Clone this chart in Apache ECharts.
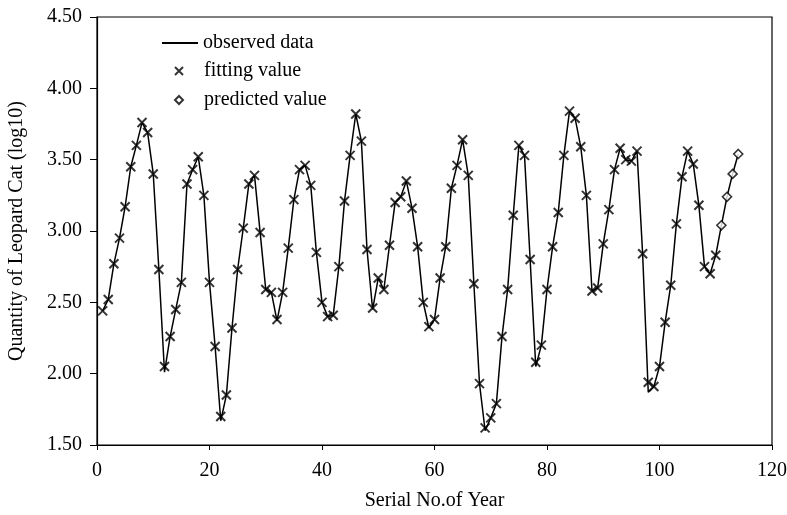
<!DOCTYPE html>
<html>
<head>
<meta charset="utf-8">
<script src="https://cdn.jsdelivr.net/npm/echarts@6/dist/echarts.min.js"></script>
<style>
  html, body { margin: 0; padding: 0; background: #fff; }
  #chart { width: 787px; height: 515px; }
</style>
</head>
<body>
<div id="chart"></div>
<script>
// serial no. of year 1..114
var years = [];
for (var i = 1; i <= 114; i++) years.push(i);

// observed data (log10), years 1..114
var observed = [
  2.44, 2.52, 2.77, 2.95, 3.17, 3.45, 3.60, 3.76, 3.69, 3.40,
  2.73, 2.01, 2.26, 2.45, 2.64, 3.33, 3.43, 3.52, 3.25, 2.64,
  2.19, 1.67, 1.85, 2.32, 2.73, 3.02, 3.33, 3.39, 2.99, 2.59,
  2.57, 2.37, 2.57, 2.88, 3.22, 3.43, 3.46, 3.32, 2.85, 2.50,
  2.40, 2.41, 2.75, 3.21, 3.53, 3.82, 3.63, 2.87, 2.45, 2.67,
  2.59, 2.90, 3.20, 3.24, 3.35, 3.16, 2.89, 2.50, 2.32, 2.38,
  2.67, 2.89, 3.30, 3.46, 3.64, 3.39, 2.63, 1.93, 1.60, 1.69,
  1.79, 2.26, 2.59, 3.11, 3.60, 3.53, 2.80, 2.05, 2.20, 2.59,
  2.89, 3.13, 3.53, 3.84, 3.79, 3.59, 3.25, 2.58, 2.60, 2.91,
  3.15, 3.43, 3.58, 3.50, 3.49, 3.56, 2.84, 1.87, 1.91, 2.05,
  2.36, 2.62, 3.05, 3.38, 3.56, 3.47, 3.18, 2.75, 2.70, 2.83,
  3.04, 3.24, 3.40, 3.54
];

// fitting values, years 1..110
var fitting = [
  2.44, 2.52, 2.77, 2.95, 3.17, 3.45, 3.60, 3.76, 3.69, 3.40,
  2.73, 2.05, 2.26, 2.45, 2.64, 3.33, 3.43, 3.52, 3.25, 2.64,
  2.19, 1.70, 1.85, 2.32, 2.73, 3.02, 3.33, 3.39, 2.99, 2.59,
  2.57, 2.38, 2.57, 2.88, 3.22, 3.43, 3.46, 3.32, 2.85, 2.50,
  2.40, 2.41, 2.75, 3.21, 3.53, 3.82, 3.63, 2.87, 2.46, 2.67,
  2.59, 2.90, 3.20, 3.24, 3.35, 3.16, 2.89, 2.50, 2.33, 2.38,
  2.67, 2.89, 3.30, 3.46, 3.64, 3.39, 2.63, 1.93, 1.62, 1.69,
  1.79, 2.26, 2.59, 3.11, 3.60, 3.53, 2.80, 2.08, 2.20, 2.59,
  2.89, 3.13, 3.53, 3.84, 3.79, 3.59, 3.25, 2.58, 2.60, 2.91,
  3.15, 3.43, 3.58, 3.50, 3.49, 3.56, 2.84, 1.94, 1.91, 2.05,
  2.36, 2.62, 3.05, 3.38, 3.56, 3.47, 3.18, 2.75, 2.70, 2.83
];

// predicted values, years 111..114
var predictedYears = [111, 112, 113, 114];
var predicted = [3.04, 3.24, 3.40, 3.54];

var font = 'Liberation Serif';
var crossIcon = 'path://M0,0L10,10M10,0L0,10';

function pairs(xs, ys) {
  return ys.map(function (v, i) { return [xs[i], v]; });
}

var chart = echarts.init(document.getElementById('chart'));

var legendText = { fontFamily: font, fontSize: 20, color: '#000' };

var option = {
  animation: false,
  backgroundColor: '#fff',
  textStyle: { fontFamily: font, color: '#000' },
  grid: {
    left: 97, right: 15, top: 17, bottom: 70,
    outerBoundsMode: 'none',
    show: true, borderColor: '#000', borderWidth: 1.2
  },
  legend: [
    {
      left: 157, top: 28, itemWidth: 36, itemHeight: 2,
      textStyle: legendText,
      data: [{ name: 'observed data', icon: 'rect' }]
    },
    {
      left: 169, top: 56, itemWidth: 8, itemHeight: 8,
      textStyle: Object.assign({ padding: [0, 0, 0, 16] }, legendText),
      data: ['fitting value']
    },
    {
      left: 169, top: 85, itemWidth: 8, itemHeight: 8,
      textStyle: Object.assign({ padding: [0, 0, 0, 16] }, legendText),
      data: ['predicted value']
    }
  ],
  xAxis: {
    type: 'value',
    min: 0, max: 120, interval: 20,
    name: 'Serial No.of Year',
    nameLocation: 'middle',
    nameGap: 46,
    nameTextStyle: { fontFamily: font, fontSize: 20, color: '#000' },
    axisLine: { onZero: false, lineStyle: { color: '#000', width: 1.2 } },
    axisTick: { show: true, length: 5, lineStyle: { color: '#000' } },
    axisLabel: { fontFamily: font, fontSize: 20, color: '#000', margin: 16 },
    splitLine: { show: false }
  },
  yAxis: {
    type: 'value',
    min: 1.5, max: 4.5, interval: 0.5,
    name: 'Quantity of Leopard Cat (log10)',
    nameLocation: 'middle',
    nameGap: 70,
    nameTextStyle: { fontFamily: font, fontSize: 20, color: '#000' },
    axisLine: { show: true, lineStyle: { color: '#000', width: 1.2 } },
    axisTick: { show: true, length: 7, lineStyle: { color: '#000' } },
    axisLabel: {
      fontFamily: font, fontSize: 20, color: '#000', margin: 15,
      formatter: function (v) { return v.toFixed(2); }
    },
    splitLine: { show: false }
  },
  series: [
    {
      name: 'observed data',
      type: 'line',
      data: pairs(years, observed),
      showSymbol: false,
      symbol: 'none',
      lineStyle: { color: '#000', width: 1.5 },
      itemStyle: { color: '#000' },
      z: 2
    },
    {
      name: 'fitting value',
      type: 'scatter',
      data: pairs(years, fitting),
      symbol: crossIcon,
      symbolSize: 9,
      itemStyle: { color: 'rgba(0,0,0,0)', borderColor: '#000', borderWidth: 2 },
      z: 3
    },
    {
      name: 'predicted value',
      type: 'scatter',
      data: pairs(predictedYears, predicted),
      symbol: 'diamond',
      symbolSize: 9,
      itemStyle: { color: '#fff', borderColor: '#000', borderWidth: 1.6 },
      z: 4
    }
  ]
};

chart.setOption(option);
</script>
</body>
</html>
